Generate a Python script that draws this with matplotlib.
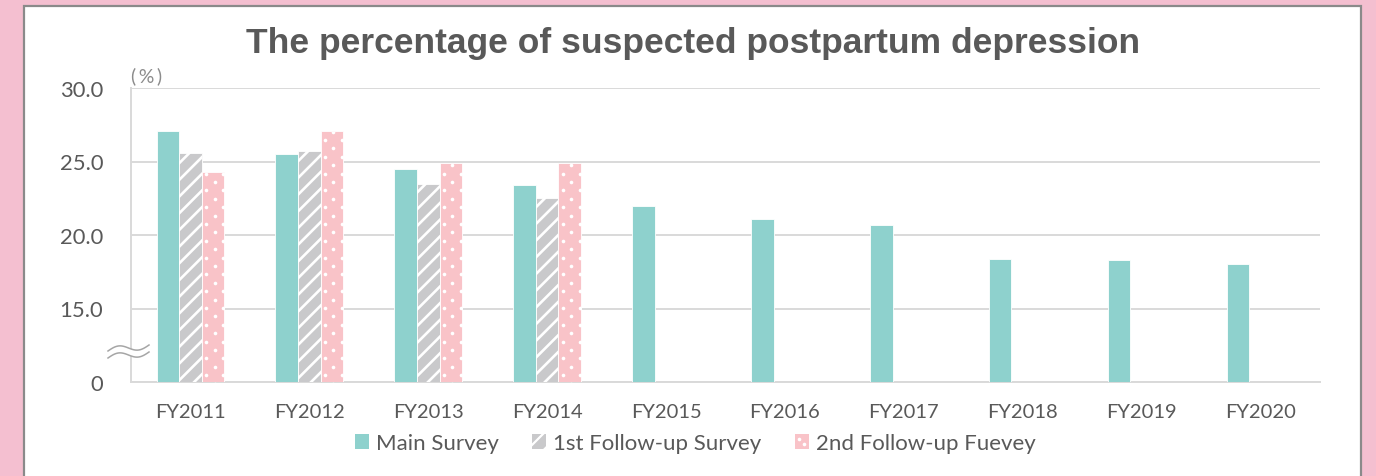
import numpy as np
import matplotlib
matplotlib.use("Agg")
import matplotlib.pyplot as plt
from matplotlib.patches import Rectangle, Patch
from matplotlib.collections import LineCollection
from matplotlib.lines import Line2D
from matplotlib.transforms import IdentityTransform, Bbox

# ---------------- data ----------------
years = ['FY2011', 'FY2012', 'FY2013', 'FY2014', 'FY2015',
         'FY2016', 'FY2017', 'FY2018', 'FY2019', 'FY2020']
main_survey = [27.1, 25.5, 24.5, 23.4, 22.0, 21.1, 20.7, 18.4, 18.3, 18.0]
first_follow = [25.6, 25.7, 23.5, 22.5, np.nan, np.nan, np.nan, np.nan, np.nan, np.nan]
second_follow = [24.3, 27.1, 24.9, 24.9, np.nan, np.nan, np.nan, np.nan, np.nan, np.nan]
series_names = ['Main Survey', '1st Follow-up Survey', '2nd Follow-up Fuevey']
ytick_values = [10, 15, 20, 25, 30]
ytick_labels = ['0', '15.0', '20.0', '25.0', '30.0']
title = 'The percentage of suspected postpartum depression'

# ---------------- figure ----------------
W, H = 1376, 477
fig = plt.figure(figsize=(W / 100, H / 100), dpi=100)
fig.patch.set_facecolor('#f4bfd0')

# white panel with grey border
panel = Rectangle((24 / W, -0.05), (1361 - 24) / W, 1.05 - 7 / H,
                  transform=fig.transFigure, facecolor='white',
                  edgecolor='#8a8a8a', linewidth=1.6, zorder=0)
fig.add_artist(panel)

ax = fig.add_axes([131 / W, 1 - 383 / H, (1320 - 131) / W, (383 - 89) / H])
ax.set_facecolor('none')
ax.set_zorder(2)

TEAL = '#8ed1cd'
GREY = '#c9c9cb'
PINK = '#f9c3c8'
TXT = '#595959'

x = np.arange(len(years))
w = 0.19

ax.set_xlim(-0.5, len(years) - 0.5)
ax.set_ylim(10, 30)

b1 = ax.bar(x - w, main_survey, width=w, color=TEAL, edgecolor='white',
            linewidth=0.6, zorder=3)
b2 = ax.bar(x, first_follow, width=w, color=GREY, edgecolor='white',
            linewidth=0.6, zorder=3)
b3 = ax.bar(x + w, second_follow, width=w, color=PINK, edgecolor='white',
            linewidth=0.6, zorder=3)

ax.set_xlim(-0.5, len(years) - 0.5)
ax.set_ylim(10, 30)

PERIOD = 16.7   # px between stripes / dot columns
DY = 8.4        # px between dot rows


def stripe_artist(bb, lw=1.9):
    cmin = bb.y0 - bb.x1 - PERIOD
    cmax = bb.y1 - bb.x0 + PERIOD
    cs = np.arange(np.floor(cmin / PERIOD) * PERIOD, cmax, PERIOD)
    segs = [[(bb.x0 - 5, bb.x0 - 5 + c), (bb.x1 + 5, bb.x1 + 5 + c)] for c in cs]
    lc = LineCollection(segs, colors='white', linewidths=lw,
                        transform=IdentityTransform())
    return lc


def dot_artist(bb, ms=2.6):
    px, py = [], []
    for k in range(int(np.floor(bb.y0 / DY)), int(np.ceil(bb.y1 / DY)) + 1):
        off = (k % 2) * PERIOD / 2 + bb.x0 % PERIOD + 4
        xs = np.arange(np.floor((bb.x0 - off) / PERIOD) * PERIOD + off,
                       bb.x1 + PERIOD, PERIOD)
        px += list(xs)
        py += [k * DY] * len(xs)
    return Line2D(px, py, marker='o', linestyle='none', ms=ms, color='white',
                  mec='none', transform=IdentityTransform())


axbb = ax.bbox
for p in b2.patches:
    if not np.isfinite(p.get_height()):
        continue
    bb = Bbox.intersection(p.get_window_extent(), axbb)
    a = stripe_artist(bb)
    a.set_zorder(3.5)
    ax.add_collection(a, autolim=False)
    a.set_clip_path(None)
    a.set_clip_box(bb)

for p in b3.patches:
    if not np.isfinite(p.get_height()):
        continue
    bb = Bbox.intersection(p.get_window_extent(), axbb)
    bb = Bbox.from_extents(bb.x0 + 0.5, bb.y0, bb.x1 - 0.5, bb.y1 - 1)
    a = dot_artist(bb)
    a.set_zorder(3.5)
    ax.add_line(a)
    a.set_clip_path(None)
    a.set_clip_box(bb)

ax.set_yticks(ytick_values)
ax.set_yticklabels(ytick_labels)
ax.set_xticks(x)
ax.set_xticklabels(years)

for s in ['top', 'right']:
    ax.spines[s].set_visible(False)
for s in ['left', 'bottom']:
    ax.spines[s].set_color('#d9d9d9')
    ax.spines[s].set_linewidth(1.4)

ax.grid(axis='y', color='#d9d9d9', linewidth=1.4, zorder=1)
ax.set_axisbelow(True)
ax.tick_params(axis='both', length=0, labelcolor=TXT)
ax.tick_params(axis='x', pad=15, labelsize=14.5)
ax.tick_params(axis='y', pad=20, labelsize=15.8)
for lab in ax.get_xticklabels() + ax.get_yticklabels():
    lab.set_fontfamily('Lato')

# (%) unit label
ax.text(0, 1.012, '(\u2009%\u2009)', transform=ax.transAxes, ha='left', va='bottom',
        fontsize=14, color='#8c8c8c', family='Lato')

# title
fig.text(693.5 / W, 1 - 43 / H, title, ha='center', va='center',
         fontsize=25.5, fontweight='bold', color=TXT, family='Liberation Sans')

# axis break marks
t = np.linspace(0, 1, 60)
bx = (108 + t * (149 - 108)) / W
upper = 1 - (352 - 6 * t - 3.5 * np.sin(2 * np.pi * t)) / H
lower = 1 - (359 - 6 * t - 3.5 * np.sin(2 * np.pi * t)) / H
fig.patches.append(plt.Polygon(np.column_stack([np.r_[bx, bx[::-1]],
                                                np.r_[upper, lower[::-1]]]),
                               closed=True, transform=fig.transFigure,
                               facecolor='white', edgecolor='none', zorder=5))
for yy in (upper, lower):
    fig.add_artist(plt.Line2D(bx, yy, transform=fig.transFigure,
                              color='#a6a6a6', linewidth=1.1, zorder=6))

# legend
h1 = Patch(facecolor=TEAL, edgecolor='none', label=series_names[0])
h2 = Patch(facecolor=GREY, edgecolor='none', label=series_names[1])
h3 = Patch(facecolor=PINK, edgecolor='none', label=series_names[2])
leg = fig.legend(handles=[h1, h2, h3], loc='center', ncol=3,
                 bbox_to_anchor=(695 / W, 1 - 444 / H), frameon=False,
                 prop={'family': 'Lato', 'size': 16.0},
                 handlelength=0.65, handleheight=0.65, handletextpad=0.3,
                 columnspacing=1.5, labelcolor=TXT)

# patterns on the legend swatches
fig.canvas.draw()
lh = leg.legend_handles
bb2 = lh[1].get_window_extent()
s = stripe_artist(bb2, lw=1.6)
s.set_zorder(10)
fig.add_artist(s)
s.set_clip_box(bb2)
bb3 = lh[2].get_window_extent()
cx, cy = (bb3.x0 + bb3.x1) / 2, (bb3.y0 + bb3.y1) / 2
d = Line2D([cx - 2.5, cx + 2.5], [cy + 2.5, cy - 2.5], marker='o', linestyle='none',
           ms=2.6, color='white', mec='none', transform=IdentityTransform(), zorder=10)
fig.add_artist(d)
d.set_clip_box(bb3)

fig.savefig('out.png', dpi=100, facecolor=fig.get_facecolor())
